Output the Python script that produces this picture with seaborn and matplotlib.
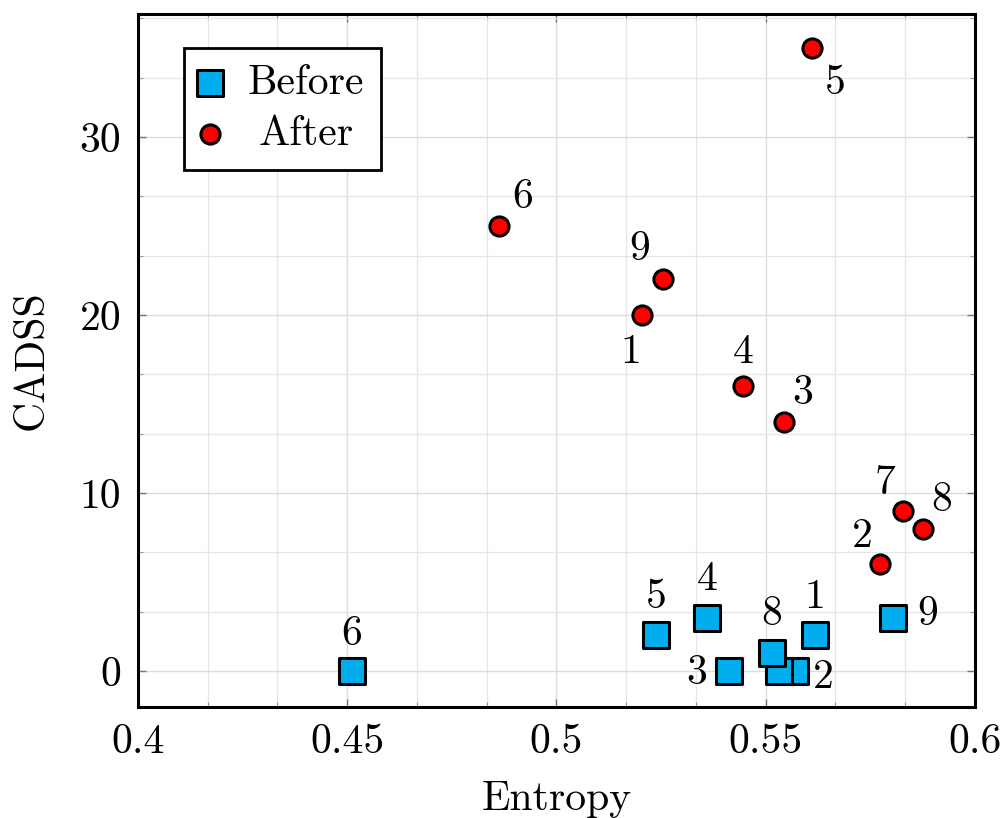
import matplotlib
matplotlib.use("Agg")
import matplotlib.pyplot as plt
import seaborn as sns
import pandas as pd
import numpy as np
from matplotlib.ticker import MultipleLocator, FixedLocator, FixedFormatter

# ---- data ----
ids = ["1", "2", "3", "4", "5", "6", "7", "8", "9"]
before_entropy = [0.5618, 0.5570, 0.5412, 0.5360, 0.5238, 0.4511, 0.5532, 0.5515, 0.5804]
before_cadss = [2, 0, 0, 3, 2, 0, 0, 1, 3]
after_entropy = [0.5204, 0.5773, 0.5544, 0.5446, 0.5611, 0.4863, 0.5828, 0.5876, 0.5254]
after_cadss = [20, 6, 14, 16, 35, 25, 9, 8, 22]
x_ticks = [0.4, 0.45, 0.5, 0.55, 0.6]
x_tick_labels = ["0.4", "0.45", "0.5", "0.55", "0.6"]
y_ticks = [0, 10, 20, 30]
y_tick_labels = ["0", "10", "20", "30"]

# label placement offsets (pixels) for point labels
before_label_offsets = {"1": (0, 38), "2": (28, -6), "3": (-32, -2), "4": (0, 38),
                        "5": (0, 38), "6": (0, 37), "8": (0, 39), "9": (35, 3)}
after_label_offsets = {"1": (-11, -37), "2": (-18, 28), "3": (19, 28), "4": (0, 34),
                       "5": (23, -35), "6": (23, 29), "7": (-18, 28), "8": (19, 28), "9": (-23, 30)}

sns.set_theme(style="whitegrid")
plt.rcParams["font.family"] = ["cmr10", "DejaVu Serif"]
plt.rcParams["mathtext.fontset"] = "cm"
plt.rcParams["axes.formatter.use_mathtext"] = True
plt.rcParams["text.color"] = "black"
plt.rcParams["axes.labelcolor"] = "black"
plt.rcParams["xtick.labelcolor"] = "black"
plt.rcParams["ytick.labelcolor"] = "black"

FS = 30
fig = plt.figure(figsize=(10.07, 8.18), dpi=100)
ax = fig.add_axes([138 / 1007, 1 - 707 / 818, (975 - 138) / 1007, (707 - 14) / 818])

df_b = pd.DataFrame({"Entropy": before_entropy, "CADSS": before_cadss, "id": ids})
df_a = pd.DataFrame({"Entropy": after_entropy, "CADSS": after_cadss, "id": ids})

sns.scatterplot(data=df_b, x="Entropy", y="CADSS", ax=ax, marker="s", s=340,
                color="#00AEEF", edgecolor="black", linewidth=2.2, label="Before", zorder=3)
sns.scatterplot(data=df_a, x="Entropy", y="CADSS", ax=ax, marker="o", s=190,
                color="#FF0000", edgecolor="black", linewidth=2.2, label="After", zorder=3)

for df, offs in ((df_b, before_label_offsets), (df_a, after_label_offsets)):
    for _, r in df.iterrows():
        if r["id"] in offs:
            ax.annotate(r["id"], (r["Entropy"], r["CADSS"]), xytext=offs[r["id"]],
                        textcoords="offset pixels", ha="center", va="center",
                        fontsize=FS, color="black", zorder=4)

ax.set_xlim(0.4, 0.6)
ax.set_ylim(-2.02, 36.9)
ax.xaxis.set_major_locator(FixedLocator(x_ticks))
ax.xaxis.set_major_formatter(FixedFormatter(x_tick_labels))
ax.yaxis.set_major_locator(FixedLocator(y_ticks))
ax.yaxis.set_major_formatter(FixedFormatter(y_tick_labels))
ax.xaxis.set_minor_locator(MultipleLocator(0.05 / 3))
ax.yaxis.set_minor_locator(MultipleLocator(10 / 3))

ax.set_facecolor("white")
ax.grid(True, which="major", color="#dcdcdc", linewidth=1.0)
ax.grid(True, which="minor", color="#e6e6e6", linewidth=0.9)
ax.set_axisbelow(True)
for sp in ax.spines.values():
    sp.set_color("black")
    sp.set_linewidth(2.2)
    sp.set_visible(True)

ax.tick_params(axis="both", which="major", direction="in", length=6, width=1.0,
               color="#777777", labelcolor="black", labelsize=FS, top=True, right=True,
               bottom=True, left=True, pad=12)
ax.tick_params(axis="both", which="minor", direction="in", length=3.5, width=0.8,
               color="#999999", top=True, right=True, bottom=True, left=True)

ax.set_xlabel("Entropy", fontsize=FS, labelpad=14, color="black")
ax.set_ylabel("CADSS", fontsize=FS, labelpad=21, color="black")

leg = ax.legend(loc="upper left", bbox_to_anchor=(0.055, 0.951), borderaxespad=0,
                fontsize=FS, frameon=True, fancybox=False, edgecolor="black",
                framealpha=1, handletextpad=0.68, borderpad=0.4, labelspacing=0.32,
                handlelength=0.45)
leg.get_frame().set_linewidth(2.0)
for t in leg.get_texts():
    t.set_color("black")

# center the shorter legend entry within the text column
fig.canvas.draw()
texts = leg.get_texts()
widths = [t.get_window_extent().width for t in texts]
wmax = max(widths)
for t, w in zip(texts, widths):
    t.set_x((wmax - w) / 2)

fig.savefig("out.png", dpi=100, facecolor="white")
